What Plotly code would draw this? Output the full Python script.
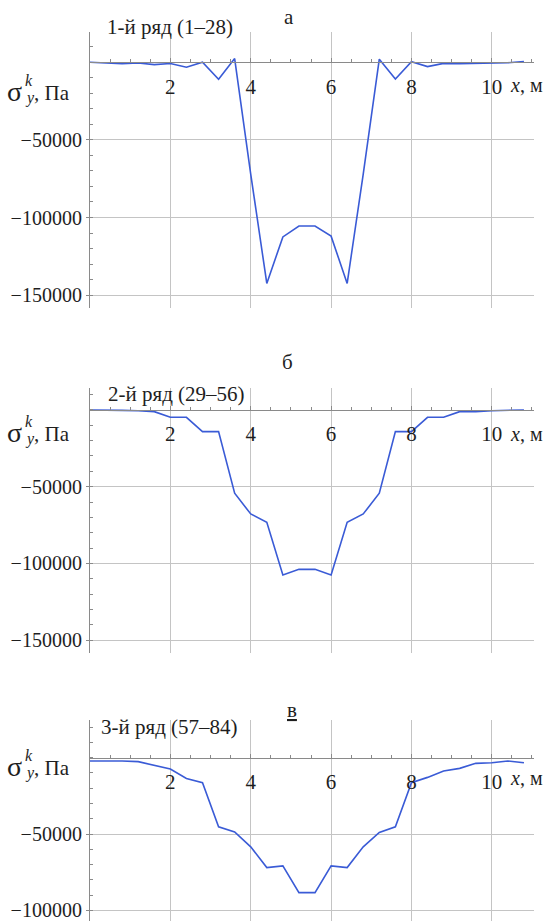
import plotly.graph_objects as go

# ---- data ----
X_M = [0.0, 0.4, 0.8, 1.2, 1.6, 2.0, 2.4, 2.8, 3.2, 3.6, 4.0, 4.4, 4.8, 5.2,
       5.6, 6.0, 6.4, 6.8, 7.2, 7.6, 8.0, 8.4, 8.8, 9.2, 9.6, 10.0, 10.4, 10.8]

ROW1 = [0, -500, -1000, -500, -1500, -800, -3200, 0, -11000, 2400, -72000,
        -142500, -112500, -105500, -105500, -112000, -142500, -72000, 2000,
        -10800, 400, -2800, -700, -1000, -700, -700, -300, 500]
ROW2 = [0, 0, -300, -500, -1100, -4800, -4800, -14100, -14100, -54300, -67800,
        -73200, -107600, -103900, -103900, -107600, -73200, -67800, -54300,
        -14100, -14100, -4800, -4800, -1100, -1100, -500, -300, 0]
ROW3 = [-2200, -2000, -2200, -2600, -4800, -7400, -13600, -16400, -45300,
        -48600, -58400, -72000, -70900, -88400, -88400, -70900, -72000, -58400,
        -49000, -45300, -16400, -12900, -8700, -7000, -3700, -3300, -2200, -3300]

ROW_TITLES = ["1-й ряд (1–28)", "2-й ряд (29–56)", "3-й ряд (57–84)"]
PANEL_LETTERS = ["а", "б", "<u>в</u>"]
X_TICKS = [2, 4, 6, 8, 10]
X_TICK_TEXT = ["2", "4", "6", "8", "10"]
Y_TICKS = [-150000, -100000, -50000]
Y_TICK_TEXT = ["−150000", "−100000", "−50000"]

W, H = 553, 921
FONT = "Liberation Serif"
LINE_COLOR = "#3a5bd6"
GRID = "#c4c4c4"
AXIS = "#8a8a8a"
TXT = "#1e1e1e"

# panel geometry (pixels)
X_LEFT_PX, X_RIGHT_PX = 90, 534
panels = [
    dict(y=ROW1, top=32, bottom=308, yr=[-158300, 19500], title_y=27, title_x=105,
         letter_xy=(289, 17), tick_y=85, lab_y=92),
    dict(y=ROW2, top=388, bottom=653, yr=[-158400, 14300], title_y=394, title_x=106,
         letter_xy=(287, 362), tick_y=434, lab_y=433),
    dict(y=ROW3, top=720, bottom=921, yr=[-107000, 24700], title_y=727, title_x=99,
         letter_xy=(292, 710), tick_y=778, lab_y=767),
]

def px(xp):
    return xp / W

def py(yp):
    return 1 - yp / H

fig = go.Figure()
annotations = []
layout = dict(
    width=W, height=H, margin=dict(l=0, r=0, t=0, b=0),
    paper_bgcolor="white", plot_bgcolor="white", showlegend=False,
    font=dict(family=FONT, size=18, color=TXT),
)

def ann(text, x, y, size, anchor="left"):
    return dict(text=text, x=px(x), y=py(y), xref="paper", yref="paper",
                xanchor=anchor, yanchor="middle", showarrow=False,
                font=dict(family=FONT, size=size, color=TXT))

for i, p in enumerate(panels):
    n = "" if i == 0 else str(i + 1)
    d0, d1 = py(p["bottom"]), py(p["top"])
    ymin, ymax = p["yr"]
    zero_pos = d0 + (0 - ymin) / (ymax - ymin) * (d1 - d0)
    fig.add_trace(go.Scatter(x=X_M, y=p["y"], mode="lines",
                             line=dict(color=LINE_COLOR, width=1.6),
                             xaxis="x" + n, yaxis="y" + n, hoverinfo="skip"))
    layout["xaxis" + n] = dict(
        domain=[px(X_LEFT_PX), px(X_RIGHT_PX)], range=[0, 11.05],
        anchor="free", position=zero_pos,
        showline=True, linecolor=AXIS, linewidth=1.2,
        tickmode="array", tickvals=X_TICKS, ticktext=X_TICK_TEXT,
        ticks="inside", ticklen=4, tickcolor=AXIS,
        minor=dict(tickmode="linear", tick0=0, dtick=0.5, ticks="inside",
                   ticklen=3, tickcolor=AXIS, showgrid=False),
        showgrid=True, gridcolor=GRID, gridwidth=1.2, zeroline=False,
        tickfont=dict(family=FONT, size=21, color=TXT),
        ticklabelstandoff=5,
    )
    layout["yaxis" + n] = dict(
        domain=[d0, d1], range=p["yr"], anchor="x" + n,
        showline=True, linecolor=AXIS, linewidth=1.2,
        tickmode="array", tickvals=Y_TICKS, ticktext=Y_TICK_TEXT,
        ticks="outside", ticklen=3, tickcolor=AXIS,
        minor=dict(tickmode="linear", tick0=0, dtick=10000, ticks="inside",
                   ticklen=3, tickcolor=AXIS, showgrid=False),
        showgrid=True, gridcolor=GRID, gridwidth=1.2, zeroline=False,
        tickfont=dict(family=FONT, size=20, color=TXT),
        ticklabeloverflow="allow",
    )
    annotations.append(ann(ROW_TITLES[i], p["title_x"], p["title_y"], 21))
    lx, ly = p["letter_xy"]
    annotations.append(ann(PANEL_LETTERS[i], lx, ly, 21, "center"))
    annotations.append(ann("<i>x</i>, м", 508, p["tick_y"], 20))
    ly0 = p["lab_y"]
    annotations.append(ann("σ", 5, ly0 - 1, 28))
    annotations.append(ann("<i>k</i>", 23, ly0 - 12, 16))
    annotations.append(ann("<i>y</i>", 23, ly0 + 6, 16))
    annotations.append(ann(", Па", 32, ly0 + 1, 21))

layout["annotations"] = annotations
fig.update_layout(**layout)
fig.write_html("out.html")
